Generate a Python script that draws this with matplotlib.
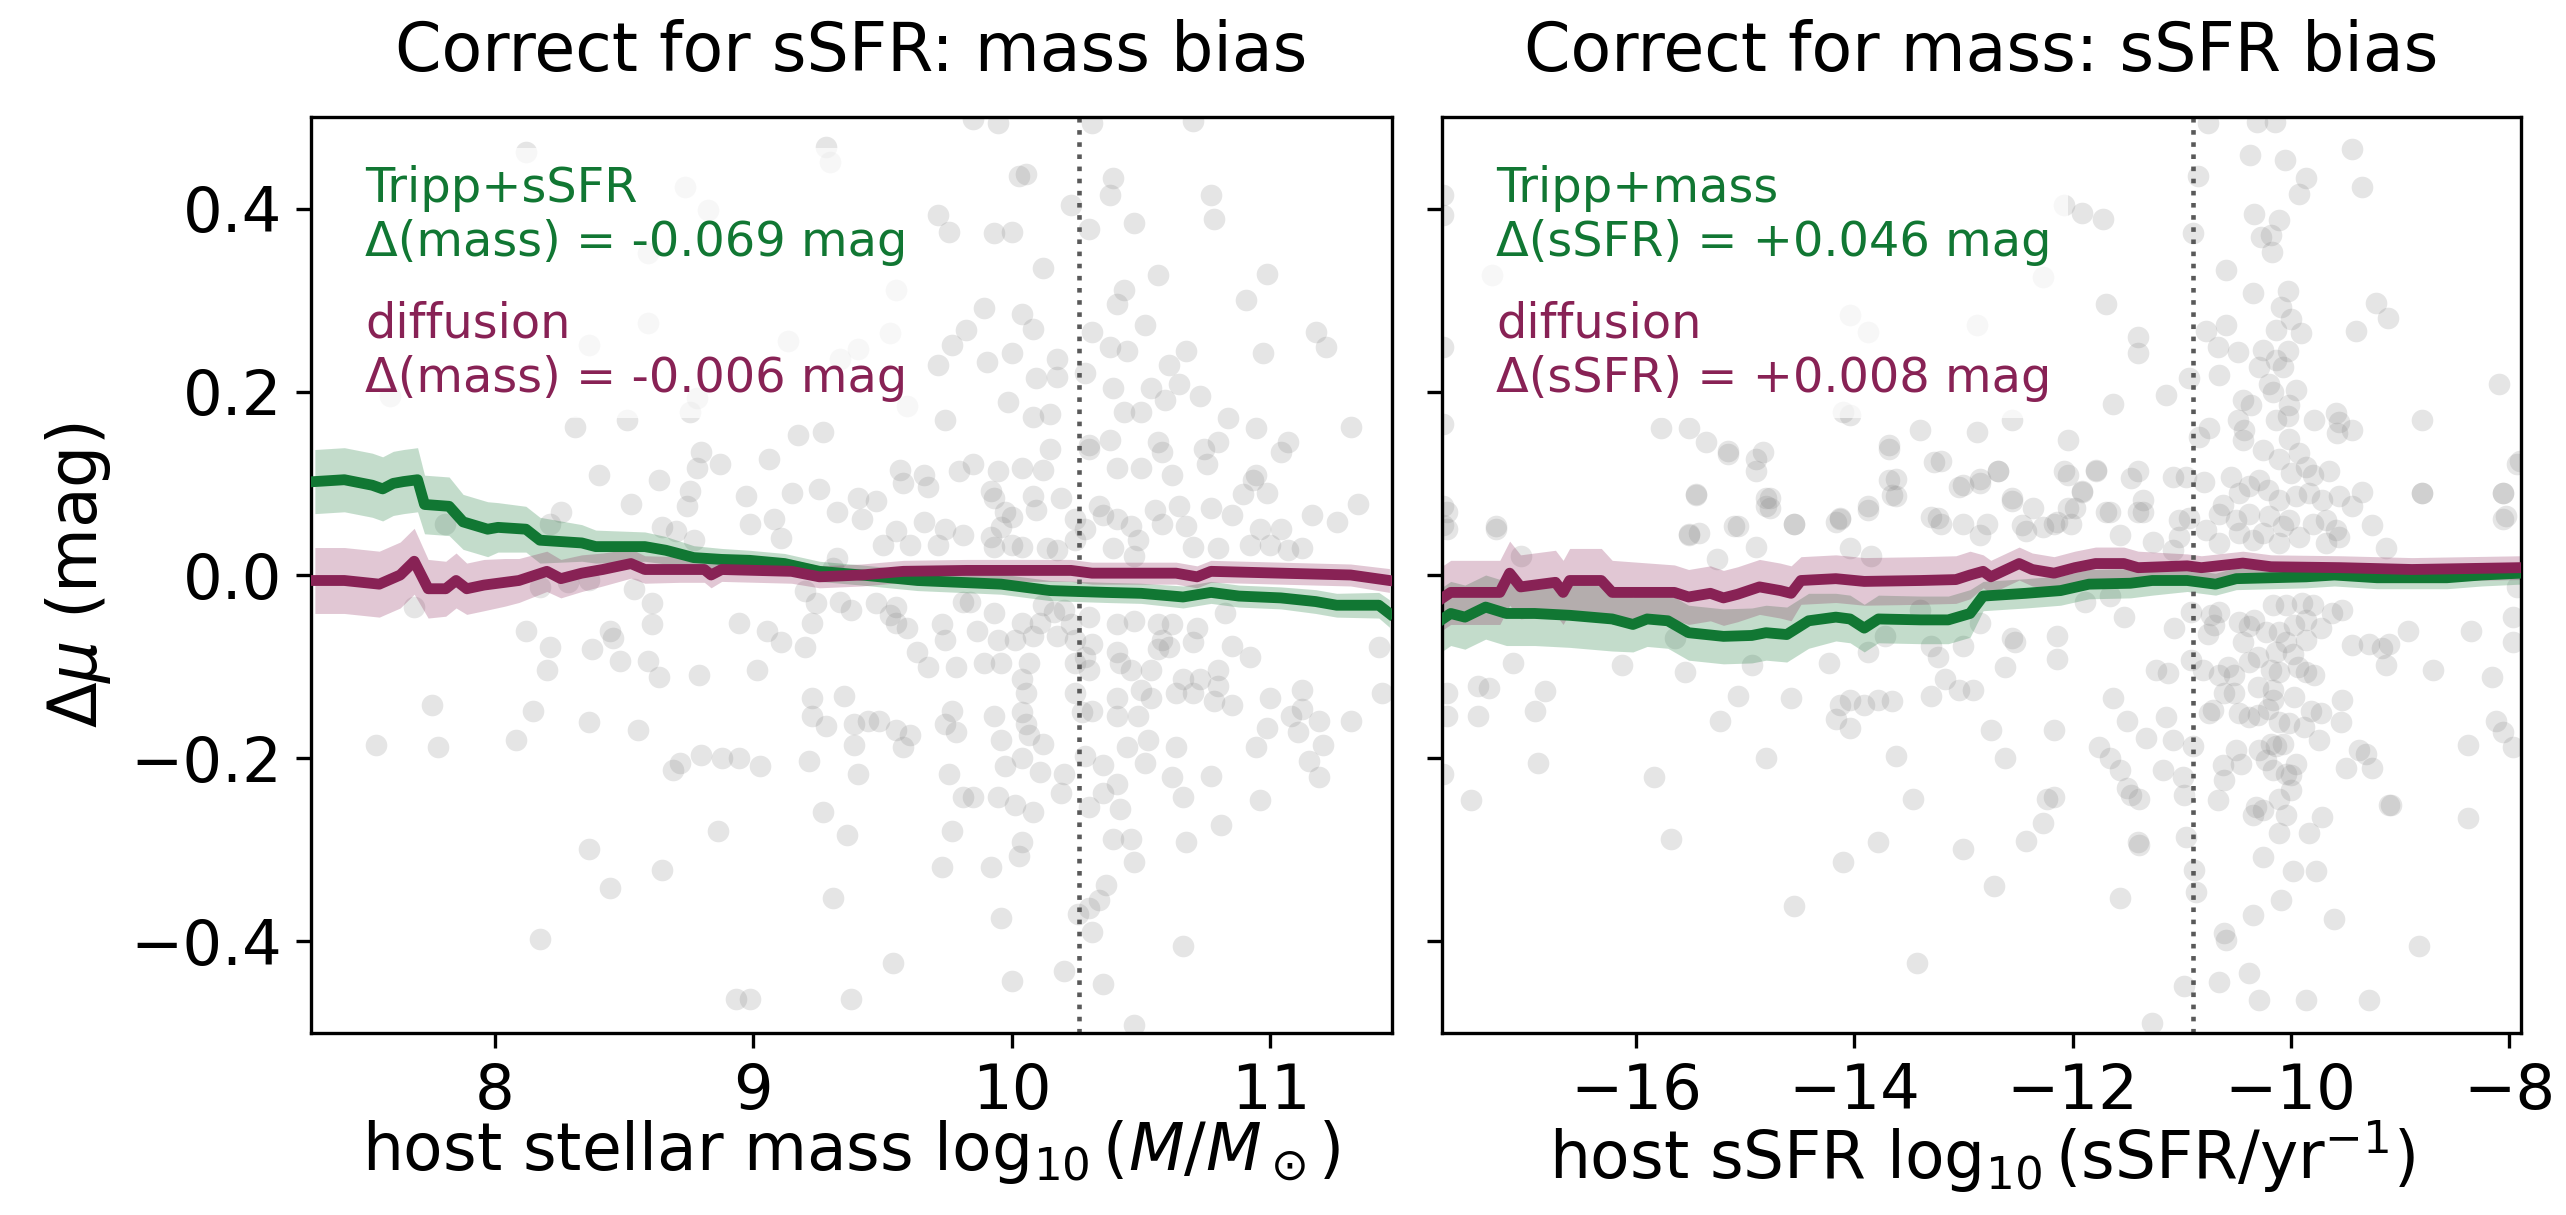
import numpy as np
import matplotlib
matplotlib.use("Agg")
import matplotlib.pyplot as plt

# ---------------- data ----------------
GREEN = "#117733"
PURPLE = "#882255"

mass_step = 10.26
ssfr_step = -10.9

# scatter: host mass vs delta mu
mass_pts = np.array([
 (8.405,0.109),(8.635,0.104),(8.797,0.134),(8.873,0.121),(9.062,0.127),(8.783,0.117),(8.973,0.086),(9.148,0.090),
 (9.256,0.094),(8.527,0.077),(8.743,0.075),(8.756,0.092),(9.324,0.069),(9.405,0.084),(9.473,0.081),(9.567,0.115),
 (9.662,0.109),(9.797,0.113),(9.851,0.121),(9.946,0.113),(10.040,0.117),(10.121,0.115),(10.148,0.138),(10.297,0.138),
 (10.405,0.117),(10.500,0.117),(10.581,0.134),(10.621,0.109),(10.743,0.138),(10.756,0.121),(10.946,0.109),(11.040,0.134),
 (8.986,0.056),(9.081,0.061),(9.108,0.040),(9.419,0.061),(9.554,0.048),(9.662,0.058),(9.743,0.050),(9.810,0.044),
 (9.919,0.092),(9.932,0.084),(9.973,0.069),(10.0,0.063),(10.081,0.086),(10.094,0.071),(10.189,0.084),(10.243,0.061),
 (10.337,0.075),(10.351,0.065),(10.405,0.061),(10.459,0.054),(10.554,0.071),(10.648,0.075),(10.675,0.054),(10.770,0.073),
 (10.851,0.065),(10.892,0.088),(10.932,0.104),(10.986,0.090),(11.162,0.065),(11.256,0.058),(11.337,0.077),(9.581,0.100),
 (9.675,0.096),(9.919,0.042),(9.932,0.031),(10.040,0.031),(10.135,0.029),(10.175,0.027),(10.243,0.038),(10.392,0.029),
 (10.472,0.021),(10.702,0.031),(10.797,0.029),(10.919,0.033),(11.0,0.033),(11.067,0.027),(11.121,0.029),(10.959,0.050),
 (11.040,0.050),(8.256,0.069),(8.216,0.056),(7.810,0.056),(8.648,0.052),(8.702,0.048),(8.770,0.038),(9.324,0.019),
 (9.500,0.033),(9.608,0.033),(9.716,0.033),(9.310,0.008),(9.959,0.052),(10.0,0.033),(10.283,0.050),(10.486,0.038),
 (10.581,0.056),
 (7.689,-0.035),(8.175,-0.013),(8.283,-0.008),(8.364,-0.006),(8.540,-0.015),(8.608,-0.031),(8.121,-0.061),(8.216,-0.079),
 (8.378,-0.081),(8.445,-0.061),(8.459,-0.069),(8.486,-0.094),(8.594,-0.094),(8.608,-0.054),(8.635,-0.111),(8.202,-0.104),
 (8.791,-0.109),(9.013,-0.104),(8.946,-0.052),(9.054,-0.061),(9.108,-0.073),(9.202,-0.079),(9.229,-0.052),(9.243,-0.031),
 (9.202,-0.017),(9.337,-0.029),(9.378,-0.038),(9.473,-0.031),(9.554,-0.035),(9.527,-0.044),(9.554,-0.052),(9.594,-0.058),
 (9.635,-0.084),(9.675,-0.100),(9.783,-0.100),(9.743,-0.071),(9.729,-0.054),(9.810,-0.029),(9.837,-0.029),(9.864,-0.061),
 (9.932,-0.042),(9.946,-0.071),(9.892,-0.096),(10.013,-0.071),(10.040,-0.052),(10.081,-0.067),(10.108,-0.052),(10.175,-0.067),
 (10.121,-0.033),(10.162,-0.040),(10.202,-0.038),(10.229,-0.054),(10.243,-0.071),(10.297,-0.046),(10.310,-0.075),(10.283,-0.090),
 (10.243,-0.096),(10.297,-0.104),(10.067,-0.096),(10.040,-0.113),(10.054,-0.129),(9.959,-0.096),(10.405,-0.054),(10.472,-0.050),
 (10.567,-0.054),(10.581,-0.071),(10.567,-0.081),(10.621,-0.054),(10.716,-0.058),(10.702,-0.073),(10.824,-0.042),(10.851,-0.077),
 (10.919,-0.090),(10.405,-0.084),(10.418,-0.096),(10.459,-0.104),(10.540,-0.104),(10.608,-0.079),(10.662,-0.113),(10.729,-0.113),
 (10.797,-0.104),(10.797,-0.121),(10.702,-0.129),(10.635,-0.129),(10.540,-0.134),(10.486,-0.154),(10.405,-0.154),(10.405,-0.134),
 (10.310,-0.148),(10.270,-0.150),(10.243,-0.129),(10.500,-0.125),(10.783,-0.138),(10.851,-0.142),(11.0,-0.134),(11.121,-0.125),
 (11.121,-0.146),(11.081,-0.154),(11.189,-0.159),(11.310,-0.159),(11.419,-0.079),(11.432,-0.129),(10.986,-0.167),(11.108,-0.171),
 (11.202,-0.186),(10.946,-0.188),(11.148,-0.203),(11.189,-0.221),(10.959,-0.246),(7.756,-0.142),(8.148,-0.148),(8.364,-0.161),
 (8.554,-0.169),(8.081,-0.180),(7.783,-0.188),(7.540,-0.186),(8.716,-0.205),(8.797,-0.196),(8.878,-0.200),(8.946,-0.200),
 (9.027,-0.209),(8.689,-0.213),(9.229,-0.134),(9.351,-0.132),(9.229,-0.154),(9.283,-0.165),(9.391,-0.163),(9.445,-0.159),
 (9.486,-0.159),(9.554,-0.169),(9.608,-0.175),(9.581,-0.188),(9.391,-0.186),(9.216,-0.203),(9.405,-0.217),(9.770,-0.148),
 (9.743,-0.163),(9.783,-0.171),(9.932,-0.154),(10.040,-0.150),(10.054,-0.163),(10.067,-0.175),(10.121,-0.184),(9.959,-0.180),
 (9.973,-0.209),(10.040,-0.200),(10.108,-0.215),(10.202,-0.217),(10.283,-0.198),(10.351,-0.207),(9.756,-0.217),(9.851,-0.242),
 (9.810,-0.242),(9.946,-0.242),(10.013,-0.251),(10.081,-0.259),(10.189,-0.238),(10.297,-0.253),(10.351,-0.238),(10.405,-0.228),
 (10.418,-0.255),(10.527,-0.180),(10.446,-0.188),(10.513,-0.205),(10.635,-0.188),(10.621,-0.221),(10.662,-0.242),(10.770,-0.219),
 (10.810,-0.273),(10.675,-0.292),(10.392,-0.288),(10.459,-0.288),(10.472,-0.313),(9.770,-0.280),(9.729,-0.319),(9.918,-0.319),
 (10.040,-0.292),(10.027,-0.307),(10.364,-0.338),(10.337,-0.355),(10.297,-0.363),(10.256,-0.370),(10.310,-0.390),(9.959,-0.374),
 (10.662,-0.405),(9.270,-0.259),(9.364,-0.284),(8.864,-0.280),(8.364,-0.299),(8.648,-0.322),(8.445,-0.342),(9.310,-0.353),
 (8.175,-0.397),(9.540,-0.424),(10.0,-0.443),(10.202,-0.432),(10.351,-0.447),(8.932,-0.463),(8.986,-0.463),(9.378,-0.463),
 (10.472,-0.491),
 (8.121,0.462),(9.283,0.467),(9.297,0.451),(9.851,0.498),(9.946,0.493),(10.310,0.493),(10.702,0.496),(8.737,0.424),
 (10.027,0.436),(10.054,0.438),(10.391,0.433),(10.378,0.415),(10.229,0.404),(10.770,0.415),(10.783,0.389),(10.472,0.384),
 (9.716,0.393),(9.756,0.375),(9.932,0.373),(10.0,0.375),(10.297,0.378),(8.824,0.398),(8.594,0.351),(10.121,0.335),
 (10.567,0.327),(10.986,0.329),(9.554,0.311),(10.432,0.311),(10.405,0.296),(10.905,0.300),(9.892,0.291),(10.040,0.285),
 (10.081,0.269),(9.824,0.267),(9.527,0.264),(10.310,0.265),(10.513,0.273),(11.175,0.265),(11.216,0.249),(10.378,0.249),
 (10.445,0.245),(10.675,0.245),(10.972,0.242),(9.770,0.251),(10.0,0.242),(9.135,0.256),(8.364,0.251),(8.594,0.275),
 (9.405,0.247),(9.337,0.236),(9.716,0.229),(9.905,0.233),(10.175,0.236),(10.094,0.215),(10.175,0.216),(10.283,0.220),
 (10.608,0.229),(10.391,0.204),(10.540,0.204),(10.648,0.209),(10.729,0.195),(10.594,0.191),(9.986,0.189),(10.081,0.173),
 (10.148,0.176),(10.432,0.178),(10.500,0.178),(10.837,0.171),(11.310,0.162),(11.067,0.145),(10.946,0.160),(10.797,0.145),
 (10.297,0.142),(10.378,0.147),(10.567,0.145),(7.594,0.195),(8.310,0.162),(8.513,0.169),(8.756,0.178),(8.783,0.193),
 (9.594,0.184),(9.175,0.153),(9.270,0.156),(9.743,0.169),
])
mass_x = mass_pts[:, 0]
mass_dmu = mass_pts[:, 1]

# scatter: host sSFR vs delta mu
ssfr_pts = np.array([
 # outside the main cluster
 (-15.453,0.088),(-14.906,0.031),(-14.810,0.075),(-14.777,0.084),(-14.552,0.056),(-14.167,0.058),(-14.134,0.061),(-14.038,0.029),
 (-13.877,0.071),(-13.845,0.021),(-13.684,0.104),(-13.620,0.086),(-13.266,0.123),(-13.298,0.063),(-13.202,0.056),(-13.009,0.056),
 (-12.784,0.056),(-12.848,0.044),(-12.687,0.113),(-13.041,0.096),(-12.848,0.100),(-12.559,0.081),(-12.430,0.048),(-12.270,0.052),
 (-12.141,0.058),(-12.044,0.109),(-12.012,0.056),(-11.980,0.073),(-11.787,0.113),(-11.916,0.092),(-11.691,0.069),(-11.562,0.044),
 (-11.466,0.106),(-11.401,0.069),
 (-8.797,0.090),(-8.057,0.090),(-8.057,0.061),(-7.929,0.121),(-7.929,-0.013),(-17.736,0.069),(-17.736,0.050),(-17.286,0.050),
 (-17.060,0.021),(-15.260,0.017),(-15.517,0.044),(-15.421,0.046),(-15.099,0.054),(-14.906,0.113),(-15.163,0.132),(-14.842,0.134),
 (-13.684,0.138),
 (-17.125,-0.096),(-17.446,-0.121),(-17.350,-0.123),(-16.835,-0.127),(-16.932,-0.148),(-17.736,-0.129),(-17.736,-0.154),(-17.446,-0.154),
 (-16.128,-0.098),(-15.646,-0.069),(-15.549,-0.106),(-14.938,-0.098),(-15.067,-0.132),(-15.228,-0.159),(-14.585,-0.134),(-14.231,-0.096),
 (-14.134,-0.142),(-14.167,-0.157),(-14.038,-0.167),(-13.909,-0.142),(-14.038,-0.136),(-13.781,-0.136),(-13.652,-0.138),(-13.877,-0.084),
 (-13.716,-0.067),(-13.395,-0.038),(-13.298,-0.077),(-13.234,-0.090),(-13.170,-0.113),(-13.041,-0.125),(-12.913,-0.125),(-13.298,-0.132),
 (-13.009,-0.077),(-12.848,-0.052),(-12.623,-0.100),(-12.559,-0.069),(-12.527,-0.073),(-12.141,-0.067),(-12.141,-0.092),(-11.884,-0.029),
 (-11.659,-0.023),(-11.530,-0.046),(-11.627,-0.134),(-11.498,-0.159),
 (-8.926,-0.061),(-8.700,-0.104),(-8.347,-0.061),(-8.154,-0.111),(-8.122,-0.159),(-8.057,-0.171),(-7.961,-0.188),(-8.379,-0.186),
 (-7.961,-0.073),(-7.961,-0.046),(-9.086,-0.251),(-8.379,-0.265),(-8.829,-0.405),
 (-11.562,-0.213),(-11.498,-0.232),(-11.466,-0.240),(-11.659,-0.200),(-11.755,-0.188),(-11.401,-0.292),(-11.273,-0.489),
 (-11.562,-0.353),(-12.720,-0.340),(-12.270,-0.271),(-12.430,-0.290),(-12.173,-0.242),(-12.237,-0.244),(-13.459,-0.244),(-13.781,-0.292),
 (-14.102,-0.313),(-14.552,-0.361),(-15.678,-0.288),(-15.839,-0.221),(-16.900,-0.205),(-17.511,-0.246),(-17.768,-0.217),(-14.810,-0.200),
 (-13.620,-0.198),(-12.623,-0.200),(-12.752,-0.169),(-12.173,-0.169),(-13.009,-0.299),(-13.427,-0.424),
 (-10.758,0.493),(-10.308,0.495),(-10.147,0.495),(-10.373,0.458),(-10.051,0.453),(-9.440,0.465),(-9.858,0.433),(-9.922,0.416),
 (-9.344,0.424),(-10.855,0.436),
 (-8.797,0.169),(-8.089,0.209),(-8.797,0.089),(-8.057,0.089),(-8.025,0.064),(-7.897,0.124),(-11.401,0.260),(-11.401,0.242),
 (-11.627,0.187),(-11.691,0.296),(-11.401,0.113),(-11.659,0.069),
 (-11.916,0.091),(-12.044,0.073),(-12.077,0.113),(-11.787,0.115),(-12.044,0.147),(-12.173,0.056),(-12.366,0.073),(-12.559,0.084),
 (-12.462,0.055),(-12.687,0.113),(-12.848,0.105),(-13.009,0.098),(-13.234,0.062),(-13.202,0.124),(-13.395,0.158),(-12.880,0.156),
 (-12.559,0.169),(-13.684,0.142),(-13.620,0.105),(-13.652,0.087),(-13.877,0.075),(-14.134,0.062),(-14.552,0.056),(-14.810,0.084),
 (-14.778,0.073),(-14.906,0.127),(-15.163,0.135),(-15.356,0.145),(-15.517,0.160),(-15.774,0.160),(-15.067,0.053),(-15.453,0.087),
 (-15.517,0.045),(-17.286,0.053),(-17.768,0.075),(-17.768,0.055),(-14.038,0.175),(-14.102,0.178),(-11.916,0.395),(-11.723,0.389),
 (-12.077,0.404),(-12.270,0.325),(-17.318,0.327),(-14.038,0.284),(-13.877,0.265),(-12.880,0.273),(-17.768,0.415),(-17.768,0.393),
 (-17.768,0.249),(-17.768,0.165),
 # main cluster, upper half
 (-10.335,0.394),(-10.106,0.388),(-10.274,0.369),(-10.182,0.371),(-10.173,0.353),(-10.594,0.333),(-10.350,0.308),(-10.030,0.310),
 (-10.091,0.293),(-10.000,0.280),(-10.137,0.267),(-9.908,0.264),(-10.777,0.266),(-10.594,0.273),(-10.670,0.249),(-10.487,0.243),
 (-10.259,0.246),(-10.030,0.244),(-10.137,0.235),(-10.289,0.227),(-10.076,0.227),(-10.655,0.218),(-10.930,0.215),(-11.143,0.197),
 (-10.198,0.209),(-9.954,0.202),(-10.167,0.200),(-10.442,0.191),(-10.365,0.186),(-10.015,0.186),(-10.030,0.174),(-10.137,0.169),
 (-10.487,0.169),(-9.786,0.169),(-9.588,0.177),(-9.557,0.167),(-9.435,0.158),(-9.572,0.155),(-10.426,0.158),(-10.442,0.147),
 (-10.747,0.160),(-10.838,0.151),(-10.015,0.149),(-10.259,0.137),(-10.106,0.127),(-9.923,0.133),(-9.862,0.118),(-9.801,0.109),
 (-9.649,0.113),(-10.000,0.111),(-10.548,0.107),(-10.792,0.102),(-11.082,0.107),(-10.960,0.107),(-10.381,0.097),(-10.289,0.104),
 (-10.472,0.089),(-10.213,0.093),(-10.625,0.076),(-10.106,0.082),(-9.954,0.086),(-9.832,0.089),(-9.710,0.082),(-9.557,0.086),
 (-9.435,0.075),(-9.344,0.091),(-9.252,0.055),(-9.679,0.060),(-9.588,0.049),(-9.801,0.056),(-10.015,0.060),(-10.076,0.053),
 (-10.198,0.064),(-10.381,0.067),(-10.503,0.060),(-10.655,0.067),(-10.930,0.062),(-11.021,0.060),(-11.021,0.042),(-10.777,0.049),
 (-10.655,0.035),(-10.472,0.046),(-10.350,0.038),(-10.259,0.046),(-10.106,0.035),(-9.923,0.042),(-9.679,0.035),(-9.557,0.042),
 (-9.130,0.029),(-11.265,0.036),(-11.082,0.027),(-11.357,0.069),(-11.357,0.082),(-9.216,0.297),(-9.106,0.281),(-9.399,0.266),
 (-10.899,0.373),
 # main cluster, lower half
 (-10.914,-0.040),(-10.731,-0.044),(-10.655,-0.040),(-11.067,-0.058),(-10.762,-0.064),(-10.701,-0.055),(-10.472,-0.051),(-10.381,-0.056),
 (-10.335,-0.049),(-10.167,-0.033),(-10.045,-0.033),(-9.893,-0.031),(-9.801,-0.033),(-9.618,-0.042),(-9.527,-0.038),(-10.228,-0.062),
 (-10.106,-0.062),(-9.969,-0.055),(-9.862,-0.049),(-9.725,-0.058),(-10.442,-0.073),(-10.045,-0.073),(-10.137,-0.084),(-9.984,-0.086),
 (-9.862,-0.071),(-9.435,-0.076),(-9.283,-0.075),(-9.161,-0.080),(-9.100,-0.075),(-9.130,-0.098),(-10.914,-0.093),(-10.808,-0.104),
 (-10.655,-0.109),(-10.579,-0.100),(-10.518,-0.109),(-10.381,-0.095),(-10.304,-0.089),(-10.182,-0.104),(-10.106,-0.106),(-9.938,-0.100),
 (-9.862,-0.106),(-9.786,-0.109),(-11.235,-0.104),(-11.128,-0.107),(-10.609,-0.129),(-10.518,-0.129),(-10.304,-0.122),(-10.167,-0.126),
 (-10.167,-0.137),(-9.969,-0.133),(-10.213,-0.146),(-10.472,-0.151),(-10.381,-0.155),(-10.304,-0.153),(-10.747,-0.151),(-10.716,-0.147),
 (-11.143,-0.155),(-10.106,-0.160),(-10.015,-0.162),(-9.877,-0.166),(-9.816,-0.149),(-9.725,-0.151),(-9.527,-0.137),(-9.542,-0.160),
 (-11.326,-0.178),(-11.082,-0.180),(-10.899,-0.187),(-10.503,-0.191),(-10.289,-0.191),(-10.182,-0.184),(-10.137,-0.187),(-10.228,-0.202),
 (-10.076,-0.184),(-9.954,-0.206),(-10.045,-0.217),(-9.740,-0.180),(-9.374,-0.191),(-9.313,-0.195),(-9.496,-0.211),(-9.252,-0.211),
 (-11.174,-0.213),(-10.991,-0.220),(-10.625,-0.207),(-10.457,-0.206),(-10.609,-0.224),(-10.167,-0.213),(-10.000,-0.218),(-10.975,-0.240),
 (-10.670,-0.246),(-10.000,-0.235),(-10.106,-0.245),(-10.320,-0.253),(-10.259,-0.257),(-10.350,-0.262),(-10.045,-0.262),(-9.710,-0.264),
 (-9.100,-0.251),(-11.387,-0.244),(-10.960,-0.286),(-10.106,-0.282),(-9.832,-0.282),(-11.387,-0.295),(-10.259,-0.308),(-10.884,-0.322),
 (-9.984,-0.323),(-9.771,-0.323),(-10.868,-0.346),(-10.091,-0.355),(-10.350,-0.371),(-9.603,-0.376),(-10.609,-0.391),(-10.594,-0.399),
 (-10.975,-0.449),(-10.655,-0.444),(-10.381,-0.435),(-10.289,-0.464),(-9.862,-0.464),(-9.283,-0.464),
])
ssfr_x = ssfr_pts[:, 0]
ssfr_dmu = ssfr_pts[:, 1]

# running-average curves (left panel, vs mass)
massG_x = [7.305,7.419,7.527,7.567,7.608,7.648,7.702,7.729,7.824,7.878,7.973,8.013,8.121,8.175,8.337,8.391,8.581,8.662,
           8.770,8.878,8.986,9.121,9.256,9.419,9.635,9.959,10.148,10.364,10.5,10.662,10.77,10.878,11.04,11.175,11.256,11.419,11.46]
massG_y = [0.102,0.104,0.098,0.094,0.100,0.102,0.104,0.077,0.075,0.058,0.050,0.052,0.050,0.038,0.035,0.031,0.031,0.027,
           0.019,0.017,0.016,0.0125,0.004,0.0,-0.006,-0.010,-0.017,-0.019,-0.020,-0.024,-0.019,-0.023,-0.025,-0.029,-0.033,-0.033,-0.042]
massG_err = [.035,.035,.035,.035,.035,.035,.035,.032,.032,.030,.030,.027,.025,.025,.020,.018,.016,.015,
             .013,.012,.011,.011,.011,.011,.011,.011,.011,.011,.011,.012,.012,.012,.012,.013,.013,.014,.015]

massP_x = [7.305,7.419,7.554,7.635,7.689,7.743,7.811,7.851,7.892,7.959,8.040,8.094,8.202,8.256,8.337,8.418,8.527,8.581,
           8.716,8.811,8.837,8.878,9.148,9.256,9.419,9.581,9.824,10.229,10.31,10.635,10.716,10.77,11.04,11.31,11.46]
massP_y = [-0.006,-0.006,-0.010,0.0,0.015,-0.015,-0.015,-0.006,-0.015,-0.011,-0.008,-0.006,0.004,-0.004,0.002,0.006,0.0125,0.006,
           0.006,0.006,0.0,0.006,0.004,-0.002,0.0,0.004,0.005,0.005,0.002,0.002,-0.002,0.004,0.002,0.0,-0.006]
massP_err = [.036,.036,.036,.036,.036,.032,.030,.030,.028,.028,.026,.024,.022,.021,.020,.018,.016,.015,
             .014,.014,.014,.013,.013,.012,.012,.012,.012,.012,.012,.012,.012,.012,.012,.012,.013]

# right panel, vs sSFR
ssfrP_x = [-17.80,-17.70,-17.25,-17.16,-17.06,-16.87,-16.74,-16.67,-16.61,-16.32,-16.22,-15.65,-15.52,-15.32,-15.20,-15.07,
           -14.87,-14.68,-14.58,-14.49,-14.17,-13.91,-13.39,-13.07,-12.94,-12.82,-12.75,-12.49,-12.37,-12.17,-11.98,-11.79,
           -11.53,-11.40,-10.95,-10.82,-10.44,-10.18,-9.54,-8.89,-7.90]
ssfrP_y = [-0.027,-0.019,-0.019,0.002,-0.013,-0.010,-0.008,-0.019,-0.006,-0.006,-0.019,-0.019,-0.024,-0.020,-0.025,-0.021,
           -0.013,-0.017,-0.020,-0.006,-0.004,-0.007,-0.006,-0.005,0.0,0.004,-0.002,0.0125,0.006,0.002,0.008,0.0125,
           0.0125,0.008,0.010,0.008,0.013,0.009,0.008,0.006,0.008]
ssfrP_err = [.035]*11 + [.030]*8 + [.026]*6 + [.018]*9 + [.013]*7

ssfrG_x = [-17.80,-17.70,-17.57,-17.38,-17.19,-16.93,-16.61,-16.22,-16.03,-15.90,-15.71,-15.52,-15.20,-14.94,-14.81,-14.62,
           -14.42,-14.17,-14.04,-13.91,-13.78,-13.39,-13.14,-12.94,-12.82,-12.43,-12.11,-11.85,-11.47,-11.27,-10.95,-10.69,
           -10.50,-10.18,-9.86,-9.60,-9.21,-8.89,-8.57,-8.25,-7.90]
ssfrG_y = [-0.050,-0.042,-0.046,-0.035,-0.042,-0.042,-0.044,-0.048,-0.054,-0.048,-0.050,-0.063,-0.067,-0.066,-0.063,-0.065,
           -0.050,-0.046,-0.048,-0.058,-0.048,-0.049,-0.049,-0.042,-0.023,-0.020,-0.017,-0.010,-0.009,-0.006,-0.006,-0.010,
           -0.004,-0.003,-0.002,0.0,-0.003,-0.003,-0.003,0.0,0.002]
ssfrG_err = [.035]*8 + [.030]*9 + [.026]*7 + [.016]*6 + [.012]*11

titles = ["Correct for sSFR: mass bias", "Correct for mass: sSFR bias"]
xlabels = [r"host stellar mass $\log_{10}(M/M_\odot)$", r"host sSFR $\log_{10}(\mathrm{sSFR/yr^{-1}})$"]
ylabel = r"$\Delta\mu$ (mag)"
green_labels = ["Tripp+sSFR\n\u0394(mass) = -0.069 mag", "Tripp+mass\n\u0394(sSFR) = +0.046 mag"]
purple_labels = ["diffusion\n\u0394(mass) = -0.006 mag", "diffusion\n\u0394(sSFR) = +0.008 mag"]
xlims = [(7.29, 11.47), (-17.78, -7.89)]
xticks = [[8, 9, 10, 11], [-16, -14, -12, -10, -8]]
yticks = [-0.4, -0.2, 0.0, 0.2, 0.4]

# ---------------- figure ----------------
W, H = 2566, 1215
fig = plt.figure(figsize=(W / 300, H / 300), dpi=300)
axL = fig.add_axes([311 / W, 1 - 1033 / H, (1392 - 311) / W, (1033 - 117) / H])
axR = fig.add_axes([1442 / W, 1 - 1033 / H, (2521 - 1442) / W, (1033 - 117) / H], sharey=axL)

panels = [
    (axL, mass_x, mass_dmu, massG_x, massG_y, massG_err, massP_x, massP_y, massP_err, mass_step),
    (axR, ssfr_x, ssfr_dmu, ssfrG_x, ssfrG_y, ssfrG_err, ssfrP_x, ssfrP_y, ssfrP_err, ssfr_step),
]

for i, (ax, sx, sy, gx, gy, ge, px, py, pe, step) in enumerate(panels):
    ax.scatter(sx, sy, s=27, color="grey", alpha=0.2, linewidths=0, zorder=1)
    gx, gy, ge = map(np.asarray, (gx, gy, ge))
    px, py, pe = map(np.asarray, (px, py, pe))
    ax.fill_between(gx, gy - ge, gy + ge, color=GREEN, alpha=0.25, linewidth=0, zorder=2)
    ax.fill_between(px, py - pe, py + pe, color=PURPLE, alpha=0.25, linewidth=0, zorder=2)
    ax.plot(gx, gy, color=GREEN, lw=2.6, zorder=3)
    ax.plot(px, py, color=PURPLE, lw=2.6, zorder=3)
    ax.axvline(step, color="0.35", ls=":", lw=1.1, zorder=2.5)
    ax.set_xlim(*xlims[i])
    ax.set_ylim(-0.5, 0.5)
    ax.set_xticks(xticks[i])
    ax.set_yticks(yticks)
    ax.set_title(titles[i], fontsize=16, pad=11)
    ax.set_xlabel(xlabels[i], fontsize=15.5, labelpad=-1)
    ax.tick_params(labelsize=15)
    bb = dict(facecolor="white", alpha=0.7, edgecolor="none", pad=4)
    ax.text(0.05, 0.948, green_labels[i], transform=ax.transAxes, ha="left", va="top",
            fontsize=11.5, color=GREEN, bbox=bb, zorder=4)
    ax.text(0.05, 0.800, purple_labels[i], transform=ax.transAxes, ha="left", va="top",
            fontsize=11.5, color=PURPLE, bbox=bb, zorder=4)

axL.set_ylabel(ylabel, fontsize=16)
plt.setp(axR.get_yticklabels(), visible=False)

fig.savefig("out.png", dpi=300)
